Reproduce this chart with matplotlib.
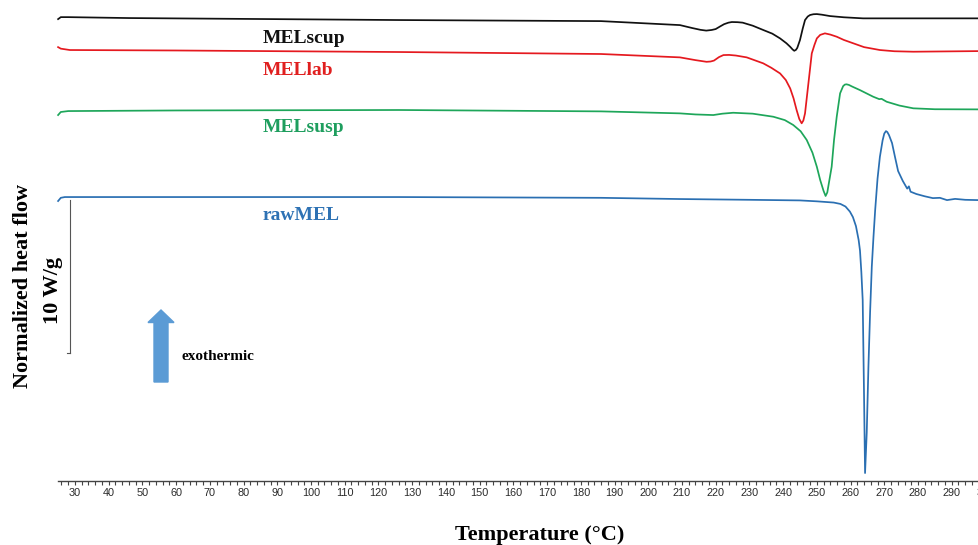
import matplotlib
matplotlib.use("Agg")
import matplotlib.pyplot as plt
from matplotlib.ticker import MultipleLocator
from matplotlib.patches import FancyArrow

# ---------------- data (Temperature in °C, heat flow in W/g, stacked offsets) -------------
scup_T = [25.0, 25.8, 28.0, 46.0, 126.0, 186.0, 209.4, 213.0, 215.5, 217.2, 218.8, 220.0,
          221.3, 222.5, 223.8, 224.8, 226.5, 228.0, 231.0, 234.1, 236.8, 239.1, 241.0, 242.1,
          242.8, 243.3, 243.8, 244.2, 245.0, 245.8, 246.5, 247.3, 248.0, 249.0, 250.0, 251.5,
          253.9, 258.0, 263.7, 280.0, 298.0]
scup_hf = [11.63, 11.76, 11.76, 11.70, 11.57, 11.50, 11.24, 11.05, 10.93, 10.88, 10.92, 10.98,
           11.15, 11.30, 11.40, 11.44, 11.43, 11.40, 11.20, 10.92, 10.68, 10.37, 10.05, 9.82,
           9.65, 9.56, 9.62, 9.75, 10.26, 11.00, 11.57, 11.80, 11.90, 11.95, 11.96, 11.92,
           11.83, 11.75, 11.68, 11.68, 11.68]

lab_T = [25.0, 25.8, 28.5, 60.0, 126.0, 186.0, 209.4, 214.0, 217.3, 218.5, 219.5, 221.0,
         222.3, 224.0, 226.0, 229.2, 234.1, 236.5, 239.1, 240.8, 242.1, 243.1, 244.0, 244.8,
         245.5, 246.0, 246.5, 247.5, 248.5, 249.3, 250.0, 251.0, 252.4, 254.0, 255.9, 258.0,
         260.8, 264.0, 268.7, 273.0, 278.6, 298.0]
lab_hf = [9.80, 9.70, 9.61, 9.58, 9.48, 9.35, 9.13, 8.95, 8.84, 8.86, 8.92, 9.15,
          9.28, 9.29, 9.25, 9.13, 8.74, 8.45, 8.08, 7.65, 7.10, 6.45, 5.69, 5.10,
          4.82, 5.00, 5.47, 7.43, 9.39, 9.95, 10.37, 10.60, 10.70, 10.62, 10.48, 10.27,
          10.05, 9.80, 9.61, 9.53, 9.50, 9.54]

susp_T = [25.0, 25.8, 28.0, 60.0, 126.0, 186.0, 209.4, 214.0, 219.3, 222.0, 225.2, 231.0,
          237.1, 240.5, 243.0, 245.2, 247.0, 248.7, 250.0, 251.0, 252.0, 252.6, 253.1, 253.6,
          254.4, 255.1, 255.9, 256.9, 257.8, 258.3, 258.8, 259.5, 260.5, 262.8, 266.7, 268.5,
          269.2, 270.7, 274.5, 278.6, 285.0, 298.0]
susp_hf = [5.36, 5.56, 5.62, 5.66, 5.69, 5.60, 5.47, 5.40, 5.36, 5.45, 5.51, 5.45,
           5.25, 5.03, 4.71, 4.30, 3.73, 2.90, 1.98, 1.11, 0.40, 0.07, 0.30, 0.95,
           1.98, 3.73, 5.25, 6.78, 7.25, 7.35, 7.37, 7.33, 7.22, 6.99, 6.56, 6.40,
           6.42, 6.23, 5.98, 5.80, 5.74, 5.73]

raw_T = [25.0, 25.8, 27.0, 126.0, 186.0, 209.4, 230.0, 245.0, 250.0, 255.0, 257.0, 258.5,
         259.8, 260.7, 261.6, 262.4, 262.8, 263.2, 263.6, 264.0, 264.3, 264.8, 265.3, 265.8,
         266.3, 266.8, 267.3, 268.0, 268.7, 269.5, 270.0, 270.5, 270.9, 271.4, 272.3, 273.2,
         274.1, 275.5, 276.8, 277.3, 277.8, 279.5, 282.0, 284.4, 286.5, 288.6, 291.0, 294.0,
         298.0]
raw_hf = [-0.26, -0.05, 0.00, 0.00, -0.05, -0.13, -0.18, -0.22, -0.28, -0.36, -0.45, -0.62,
          -0.95, -1.31, -1.90, -2.81, -3.50, -4.90, -6.73, -13.0, -18.04, -15.4, -11.09, -7.50,
          -4.55, -2.60, -0.85, 1.20, 2.63, 3.70, 4.15, 4.31, 4.25, 4.05, 3.53, 2.60,
          1.70, 1.05, 0.55, 0.70, 0.35, 0.20, 0.05, -0.07, -0.05, -0.20, -0.12, -0.18,
          -0.20]

series_names = ["MELscup", "MELlab", "MELsusp", "rawMEL"]
line_colors = ["#111111", "#e5191f", "#1ea65a", "#2a6fb2"]
text_colors = ["#111111", "#e01f1f", "#1e9e5e", "#2e72b4"]
label_T = [85.75, 85.75, 85.75, 85.7]
label_hf = [10.04, 7.97, 4.23, -1.50]

scale_bar_T = 28.5
scale_bar_hf = (-0.2, -10.2)   # 10 W/g

x_ticks_major = 10
x_ticks_minor = 2

# ---------------- figure ----------------
W, H = 979, 545
fig = plt.figure(figsize=(W / 100, H / 100), dpi=100)
ax_left = 58.1 / W
ax_width = (1002.3 - 58.1) / W
ax_bottom = (H - 481) / H
ax_height = 481 / H
ax = fig.add_axes([ax_left, ax_bottom, ax_width, ax_height])
ax.set_xlim(25, 305)
ax.set_ylim(-18.56, 12.88)

curves = [(scup_T, scup_hf), (lab_T, lab_hf), (susp_T, susp_hf), (raw_T, raw_hf)]
for (T, hf), c in zip(curves, line_colors):
    ax.plot(T, hf, color=c, lw=1.25, solid_joinstyle="round", clip_on=False)

for name, tc, lx, ly in zip(series_names, text_colors, label_T, label_hf):
    ax.text(lx, ly, name, color=tc, fontsize=14, fontweight="bold",
            family="Liberation Serif", ha="left", va="baseline")

# scale bar
ax.plot([scale_bar_T, scale_bar_T], scale_bar_hf, color="#555555", lw=0.8)
ax.plot([scale_bar_T - 0.9, scale_bar_T], [scale_bar_hf[1]] * 2, color="#555555", lw=0.8)

# axes styling
for s in ["left", "right", "top"]:
    ax.spines[s].set_visible(False)
ax.spines["bottom"].set_color("#444444")
ax.spines["bottom"].set_linewidth(1.0)
ax.set_yticks([])
ax.xaxis.set_major_locator(MultipleLocator(x_ticks_major))
ax.xaxis.set_minor_locator(MultipleLocator(x_ticks_minor))
ax.tick_params(axis="x", which="both", direction="out", length=3, width=0.8,
               color="#444444", pad=2, labelsize=7.8, labelcolor="#2a2a2a")
for lab in ax.get_xticklabels():
    lab.set_family("Liberation Sans")

# axis titles
fig.text(539.5 / W, (H - 540) / H, "Temperature (°C)", fontsize=16, fontweight="bold",
         family="Liberation Serif", ha="center", va="baseline")
fig.text(23 / W, 1 - 285.7 / H, "Normalized heat flow", fontsize=16, fontweight="bold",
         family="Liberation Serif", rotation=90, ha="center", va="center")
fig.text(53 / W, 1 - 290 / H, "10 W/g", fontsize=16, fontweight="bold",
         family="Liberation Serif", rotation=90, ha="center", va="center")

# exothermic arrow
arrow = FancyArrow(1.61, (H - 382) / 100, 0, 0.72, width=0.14, head_width=0.26,
                   head_length=0.125, length_includes_head=True, color="#5b9bd5",
                   transform=fig.dpi_scale_trans)
fig.patches.append(arrow)
fig.text(182 / W, 1 - 356 / H, "exothermic", fontsize=11, fontweight="bold",
         family="Liberation Serif", ha="left", va="center")

fig.savefig("out.png", dpi=100)
